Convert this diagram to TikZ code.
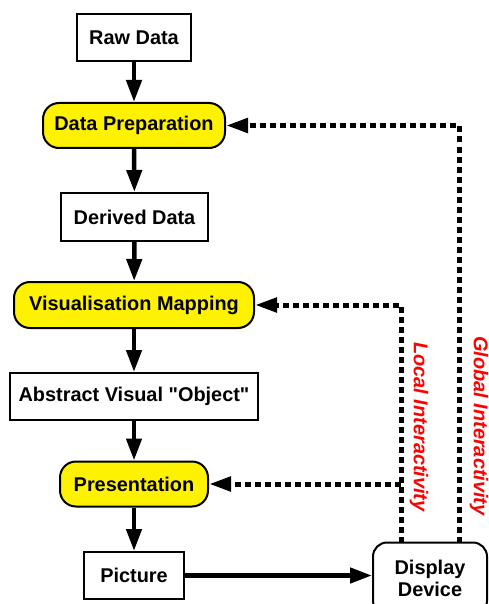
\documentclass[tikz,border=0pt]{standalone}
\usepackage{fontspec}
\setmainfont{Liberation Sans}[Ligatures=TeXOff]
\usetikzlibrary{arrows.meta}
\tikzset{
  box/.style={draw, line width=2pt, fill=white, inner sep=0pt,
    font=\fontsize{19.9}{22}\selectfont\bfseries, align=center},
  stage/.style={box, fill=yellow, rounded corners=16pt},
  flow/.style={line width=4.5pt, -{Triangle[length=22pt, width=15pt]}},
  feedback/.style={line width=5pt, dash pattern=on 6pt off 4pt,
    -{Triangle[length=22pt, width=14pt]}},
  interlabel/.style={text=red, rotate=-90, inner sep=0pt,
    font=\fontsize{19.9}{22}\selectfont\bfseries\itshape}
}
\begin{document}
\begin{tikzpicture}[x=1pt, y=-1pt]
\useasboundingbox (0,0) rectangle (489,604);

% processing pipeline
\node[box, minimum width=114pt, minimum height=47pt] (raw) at (134,37.5) {Raw Data};
\node[stage, minimum width=182pt, minimum height=45pt] (prep) at (134,125.5) {Data Preparation};
\node[box, minimum width=147pt, minimum height=48pt] (derived) at (134.5,217) {Derived Data};
\node[stage, minimum width=240pt, minimum height=46pt] (mapping) at (134,305) {Visualisation Mapping};
\node[box, minimum width=248pt, minimum height=47pt] (abstract) at (134,396.5) {Abstract Visual "Object"};
\node[stage, minimum width=148pt, minimum height=45pt] (present) at (134,484) {Presentation};
\node[box, minimum width=100pt, minimum height=47pt] (picture) at (134,575.5) {Picture};
\node[box, rounded corners=14pt, minimum width=114pt, minimum height=72pt] (display) at (430,578.5) {Display\\Device};

\draw[flow] (raw) -- (prep);
\draw[flow] (prep) -- (derived);
\draw[flow] (derived) -- (mapping);
\draw[flow] (mapping) -- (abstract);
\draw[flow] (abstract) -- (present);
\draw[flow] (present) -- (picture);
\draw[flow] (picture.east) -- (picture.east -| display.west);

% interaction loops back from the display
\coordinate (localfoot) at (401,542.5);
\coordinate (localtap) at (401,484);
\coordinate (globalfoot) at (459,542.5);

\draw[feedback] (localfoot) |- (mapping.east);
\draw[feedback] (localtap) -- (present.east);
\draw[feedback] (globalfoot) |- (prep.east);

\node[interlabel] (locallabel) at (419,427) {Local Interactivity};
\node[interlabel] (globallabel) at (479,426) {Global Interactivity};
\end{tikzpicture}
\end{document}
